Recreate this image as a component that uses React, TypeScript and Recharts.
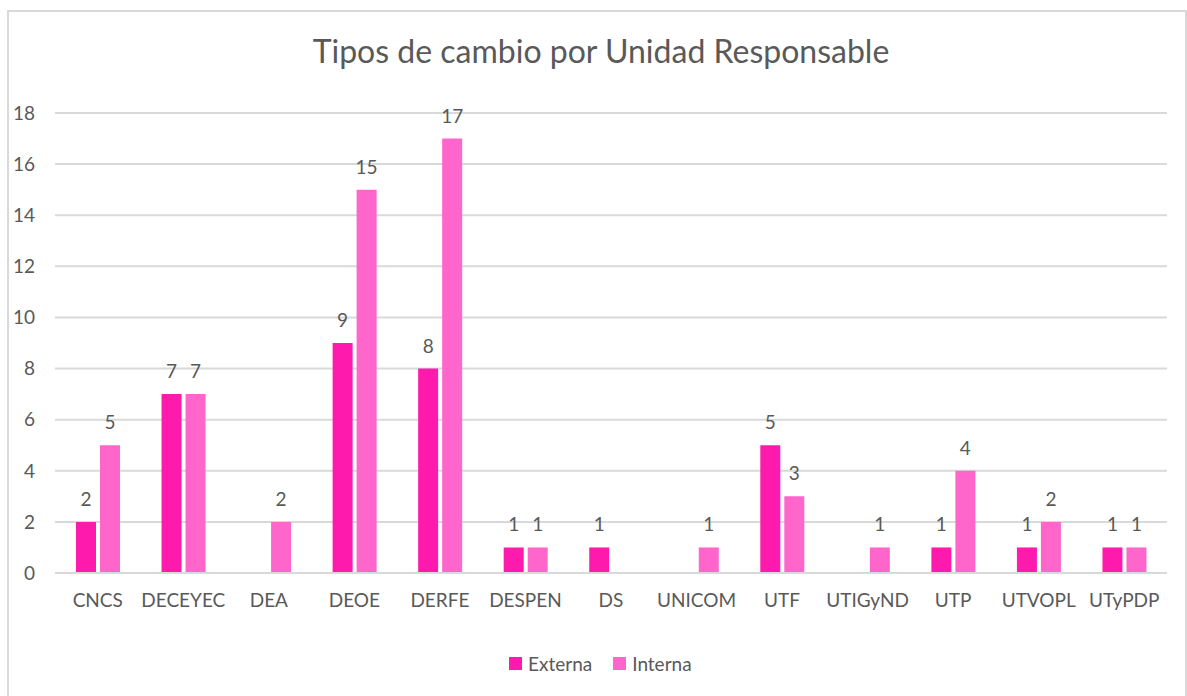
import React from 'react';
import { BarChart, Bar, XAxis, YAxis, CartesianGrid, LabelList } from 'recharts';

const categories = ['CNCS', 'DECEYEC', 'DEA', 'DEOE', 'DERFE', 'DESPEN', 'DS', 'UNICOM', 'UTF', 'UTIGyND', 'UTP', 'UTVOPL', 'UTyPDP'];
const externa = [2, 7, null, 9, 8, 1, 1, null, 5, null, 1, 1, 1];
const interna = [5, 7, 2, 15, 17, 1, null, 1, 3, 1, 4, 2, 1];
const yTicks = [0, 2, 4, 6, 8, 10, 12, 14, 16, 18];

const data = categories.map((name, i) => ({ name, externa: externa[i], interna: interna[i] }));

const FONT = 'Lato, "Open Sans", sans-serif';
const TEXT = '#595959';
const EXT_COLOR = '#FF1AAE';
const INT_COLOR = '#FF66CC';

const hideEmpty = (v: any) => (v === null || v === undefined ? '' : v);

const App: React.FC = () => {
  return (
    <div style={{ position: 'absolute', left: 0, top: 0, width: 1187, height: 696, overflow: 'hidden', background: '#fff', fontFamily: FONT }}>
      {/* outer frame */}
      <div style={{ position: 'absolute', left: 7, top: 10, width: 1176, height: 700, border: '2px solid #d9d9d9' }} />

      {/* title */}
      <div style={{ position: 'absolute', left: 0, top: 31, width: 1202, textAlign: 'center', fontSize: 32, color: TEXT }}>
        Tipos de cambio por Unidad Responsable
      </div>

      <BarChart
        width={1187}
        height={696}
        data={data}
        margin={{ top: 113, right: 20, left: 0, bottom: 93 }}
        barSize={20}
        barGap={4}
        style={{ position: 'absolute', left: 0, top: 0 }}
      >
        <CartesianGrid vertical={false} stroke="#d9d9d9" strokeWidth={2} />
        <XAxis
          dataKey="name"
          height={30}
          axisLine={{ stroke: '#d9d9d9', strokeWidth: 2 }}
          tickLine={false}
          tickSize={0}
          tickMargin={21}
          interval={0}
          tick={{ fill: TEXT, fontSize: 19, fontFamily: FONT }}
        />
        <YAxis
          width={55}
          domain={[0, 18]}
          ticks={yTicks}
          axisLine={false}
          tickLine={false}
          tickSize={0}
          tickMargin={20}
          tick={{ fill: TEXT, fontSize: 19, fontFamily: FONT }}
        />
        <Bar dataKey="externa" name="Externa" fill={EXT_COLOR} isAnimationActive={false}>
          <LabelList dataKey="externa" position="top" offset={16} formatter={hideEmpty} fill={TEXT} fontSize={19} fontFamily={FONT} />
        </Bar>
        <Bar dataKey="interna" name="Interna" fill={INT_COLOR} isAnimationActive={false}>
          <LabelList dataKey="interna" position="top" offset={16} formatter={hideEmpty} fill={TEXT} fontSize={19} fontFamily={FONT} />
        </Bar>
      </BarChart>

      {/* legend */}
      <div style={{ position: 'absolute', left: 509, top: 652, display: 'flex', alignItems: 'center', fontSize: 19, color: TEXT }}>
        <span style={{ display: 'inline-block', width: 13, height: 13, background: EXT_COLOR, marginRight: 6 }} />
        <span style={{ marginRight: 21 }}>Externa</span>
        <span style={{ display: 'inline-block', width: 13, height: 13, background: INT_COLOR, marginRight: 6 }} />
        <span>Interna</span>
      </div>
    </div>
  );
};

export default App;
